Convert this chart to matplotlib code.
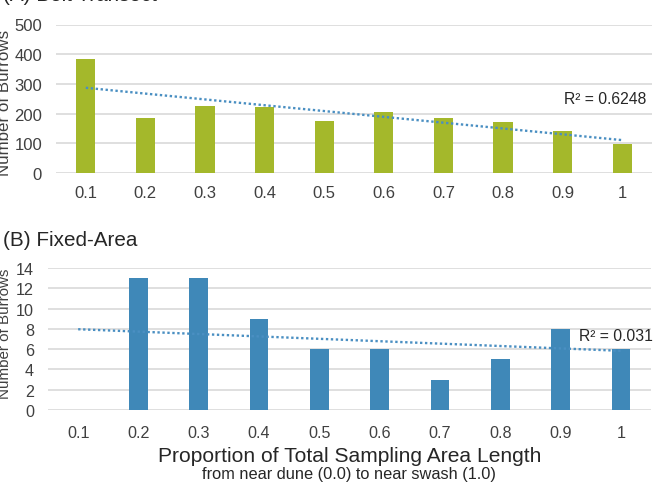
import numpy as np
import matplotlib
matplotlib.use("Agg")
import matplotlib.pyplot as plt

plt.rcParams['font.family'] = ['Liberation Sans', 'DejaVu Sans']

categories = ['0.1', '0.2', '0.3', '0.4', '0.5', '0.6', '0.7', '0.8', '0.9', '1']
belt_values = [383, 185, 225, 222, 174, 204, 186, 171, 141, 97]
fixed_values = [0, 13, 13, 9, 6, 6, 3, 5, 8, 6]
belt_r2 = 'R² = 0.6248'
fixed_r2 = 'R² = 0.031'

W, H = 657, 489
fig = plt.figure(figsize=(W / 100, H / 100), dpi=100)

green = '#a4b82b'
blue = '#3f88b8'
trend_col = '#4a8fc2'
grid_col = '#d9d9d9'


def px_ax(l, r, t, b):
    return fig.add_axes([l / W, 1 - b / H, (r - l) / W, (b - t) / H])


def style(ax, ymax, step, fs, pad_x, pad_y):
    ax.set_xlim(-0.5, len(categories) - 0.5)
    ax.set_ylim(0, ymax)
    ax.set_yticks(np.arange(0, ymax + step / 2, step))
    ax.set_xticks(range(len(categories)))
    ax.set_xticklabels(categories)
    for s in ax.spines.values():
        s.set_visible(False)
    ax.grid(axis='y', color=grid_col, linewidth=1.2)
    ax.set_axisbelow(True)
    ax.tick_params(axis='both', length=0, labelsize=fs, colors='#404040')
    ax.tick_params(axis='x', pad=pad_x)
    ax.tick_params(axis='y', pad=pad_y)


def trend(ax, vals):
    x = np.arange(len(vals))
    m, c = np.polyfit(x + 1, vals, 1)
    ax.plot([x[0], x[-1]], [m * (x[0] + 1) + c, m * (x[-1] + 1) + c],
            color=trend_col, linewidth=1.7, linestyle=(0, (1, 1.1)),
            zorder=5)


# (A) Belt transect
ax1 = px_ax(56, 652, 25.5, 174)
style(ax1, 500, 100, 12, 9, 10)
ax1.bar(range(len(categories)), belt_values, width=0.32, color=green, zorder=3)
trend(ax1, belt_values)
ax1.text(646 / W, 1 - 100 / H, belt_r2, transform=fig.transFigure,
         ha='right', va='center', fontsize=11.3, color='#262626')

# (B) Fixed-Area
ax2 = px_ax(48, 651, 269, 411)
style(ax2, 14, 2, 11.6, 10.5, 10)
ax2.bar(range(len(categories)), fixed_values, width=0.31, color=blue, zorder=3)
trend(ax2, fixed_values)
ax2.text(579 / W, 1 - 337 / H, fixed_r2, transform=fig.transFigure,
         ha='left', va='center', fontsize=11.3, color='#262626')

# titles
fig.text(3 / W, 1 - 1 / H, '(A) Belt Transect', ha='left', va='baseline',
         fontsize=14.9, color='#262626')
fig.text(3 / W, 1 - 246.5 / H, '(B) Fixed-Area', ha='left', va='baseline',
         fontsize=14.9, color='#262626')

# y labels
fig.text(5 / W, 1 - 103 / H, 'Number of Burrows', rotation=90, ha='center',
         va='center', fontsize=12.2, color='#404040')
fig.text(5 / W, 1 - 334 / H, 'Number of Burrows', rotation=90, ha='center',
         va='center', fontsize=10.9, color='#404040')

# x labels
fig.text(349.5 / W, 1 - 462.5 / H, 'Proportion of Total Sampling Area Length',
         ha='center', va='baseline', fontsize=15.1, color='#262626')
fig.text(349 / W, 1 - 479 / H, 'from near dune (0.0) to near swash (1.0)',
         ha='center', va='baseline', fontsize=11.8, color='#262626')

fig.savefig('out.png', dpi=100)
